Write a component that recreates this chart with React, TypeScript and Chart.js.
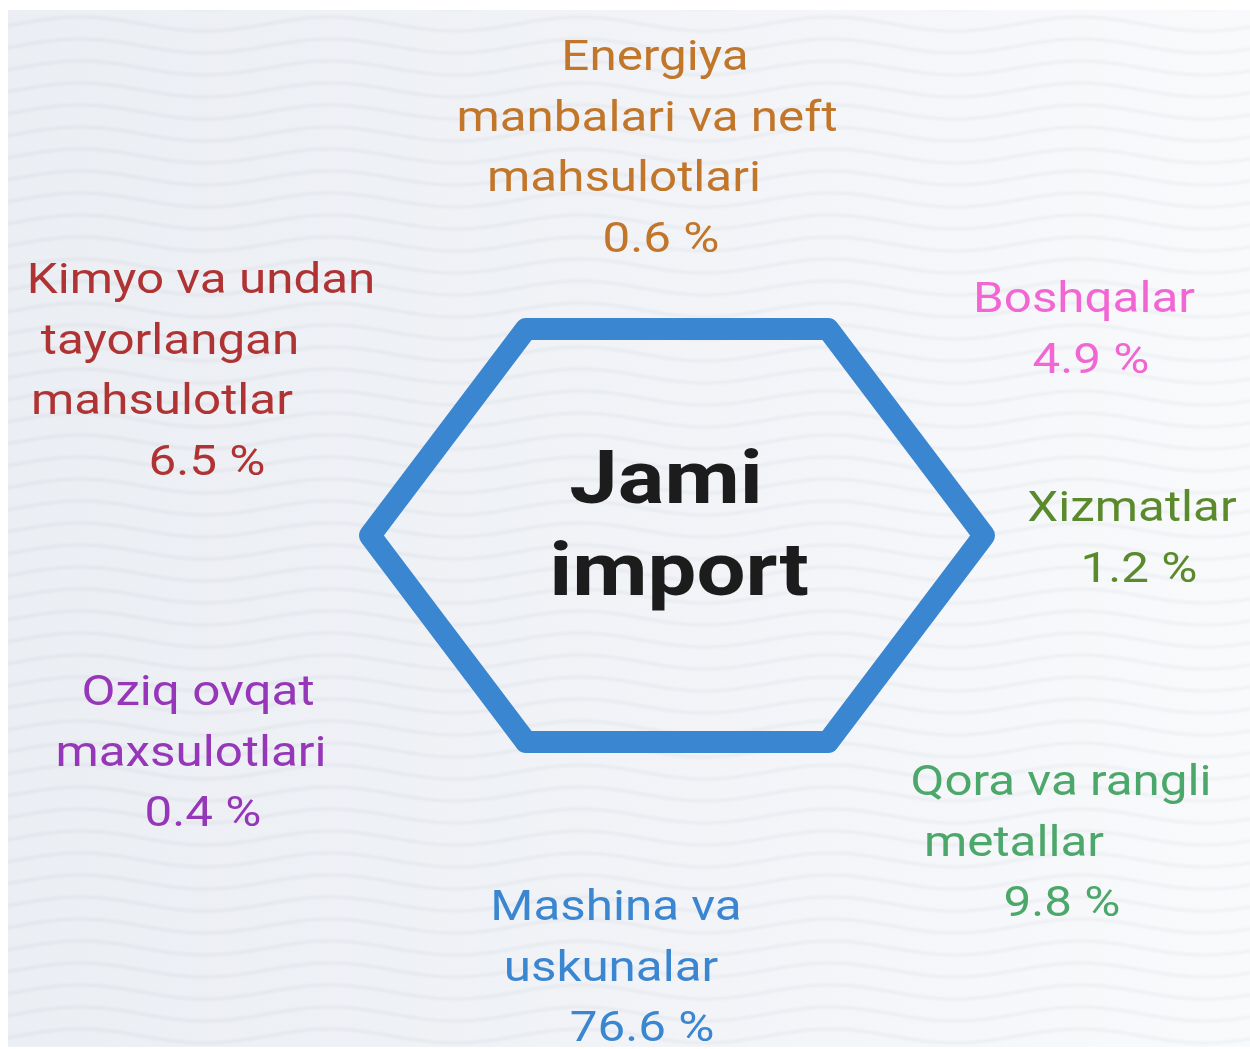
import React, { useEffect, useRef } from "react";
import { Chart, registerables } from "chart.js";

Chart.register(...registerables);

// ---------- data ----------
const CATEGORIES = [
  "Energiya manbalari va neft mahsulotlari",
  "Boshqalar",
  "Xizmatlar",
  "Qora va rangli metallar",
  "Mashina va uskunalar",
  "Oziq ovqat maxsulotlari",
  "Kimyo va undan tayorlangan mahsulotlar",
];
const SHARES = [0.6, 4.9, 1.2, 9.8, 76.6, 0.4, 6.5];
const LABEL_LINES = [
  ["Energiya", "manbalari va neft", "mahsulotlari"],
  ["Boshqalar"],
  ["Xizmatlar"],
  ["Qora va rangli", "metallar"],
  ["Mashina va", "uskunalar"],
  ["Oziq ovqat", "maxsulotlari"],
  ["Kimyo va undan", "tayorlangan", "mahsulotlar"],
];
const CENTER_TITLE = ["Jami", "import"];

// ---------- styles / layout ----------
const COLORS = ["#c1762a", "#f266d4", "#5b8a2d", "#4ca86a", "#3a86d0", "#9637b9", "#b03333"];
const ANCHOR_X = [655, 1084, 1132, 1061, 616, 198, 201];
const ANCHOR_Y = [70, 312, 521, 795, 920, 705, 293];
const LINE_DX = [
  [0, -8, -31, 6],
  [0, 7],
  [0, 7],
  [0, -47, 1],
  [0, -5, 26],
  [0, -7, 5],
  [0, -31, -39, 6],
];
const LINE_GAP = 60.5;
const SX = 1.175;
const W = 1250;
const H = 1049;
const HEX = { cx: 677, cy: 535.5, rx: 307, hw: 151, hy: 206.5 };

function hexVertices() {
  const { cx, cy, rx, hw, hy } = HEX;
  return [
    { x: cx, y: cy - hy },
    { x: cx + hw, y: cy - hy },
    { x: cx + rx, y: cy },
    { x: cx + hw, y: cy + hy },
    { x: cx - hw, y: cy + hy },
    { x: cx - rx, y: cy },
    { x: cx - hw, y: cy - hy },
    { x: cx, y: cy - hy },
  ];
}

const backgroundPlugin = {
  id: "bgWaves",
  beforeDraw(chart: any) {
    const ctx = chart.ctx as CanvasRenderingContext2D;
    ctx.save();
    ctx.fillStyle = "#ffffff";
    ctx.fillRect(0, 0, W, H);
    const px0 = 8, py0 = 10, px1 = 1250, py1 = 1047;
    const g = ctx.createLinearGradient(px0, 0, px1, 0);
    g.addColorStop(0, "#ebeef3");
    g.addColorStop(0.5, "#f1f3f7");
    g.addColorStop(1, "#f9fafc");
    ctx.fillStyle = g;
    ctx.fillRect(px0, py0, px1 - px0, py1 - py0);
    ctx.beginPath();
    ctx.rect(px0, py0, px1 - px0, py1 - py0);
    ctx.clip();
    ctx.filter = "blur(1px)";
    ctx.strokeStyle = "rgba(120,130,145,0.075)";
    ctx.lineWidth = 3;
    for (let y0 = -20; y0 < H + 30; y0 += 22) {
      ctx.beginPath();
      for (let x = px0 - 10; x <= px1 + 10; x += 4) {
        const y = y0 - 7 * Math.cos((2 * Math.PI * (x - 80)) / 250);
        if (x === px0 - 10) ctx.moveTo(x, y);
        else ctx.lineTo(x, y);
      }
      ctx.stroke();
    }
    ctx.restore();
  },
};

const labelPlugin = {
  id: "hexLabels",
  afterDatasetsDraw(chart: any) {
    const ctx = chart.ctx as CanvasRenderingContext2D;
    const meta = chart.getDatasetMeta(1);
    ctx.save();
    ctx.textAlign = "center";
    ctx.textBaseline = "alphabetic";
    ctx.filter = "blur(0.4px)";
    ctx.font = "42px Roboto";
    meta.data.forEach((pt: any, i: number) => {
      const lines = [...LABEL_LINES[i], `${SHARES[i]} %`];
      ctx.fillStyle = COLORS[i];
      lines.forEach((t, j) => {
        ctx.save();
        ctx.translate(pt.x + (LINE_DX[i][j] || 0), pt.y + j * LINE_GAP);
        ctx.scale(SX, 1);
        ctx.fillText(t, 0, 0);
        ctx.restore();
      });
    });
    // center title
    const xs = chart.scales.x;
    const ys = chart.scales.y;
    const cx = xs.getPixelForValue(HEX.cx);
    const cy = ys.getPixelForValue(HEX.cy);
    ctx.fillStyle = "#1c1c1c";
    ctx.font = "bold 74px Roboto";
    const offs = [[-11, -33], [2, 59]];
    CENTER_TITLE.forEach((t, j) => {
      ctx.save();
      ctx.translate(cx + offs[j][0], cy + offs[j][1]);
      ctx.scale(SX, 1);
      ctx.fillText(t, 0, 0);
      ctx.restore();
    });
    ctx.restore();
  },
};

export default function App() {
  const ref = useRef<HTMLCanvasElement | null>(null);
  useEffect(() => {
    if (!ref.current) return;
    const chart = new Chart(ref.current, {
      type: "scatter",
      data: {
        datasets: [
          {
            label: "hexagon",
            data: hexVertices(),
            showLine: true,
            borderColor: "#3a86d0",
            borderWidth: 22,
            borderJoinStyle: "round",
            borderCapStyle: "round",
            pointRadius: 0,
            fill: false,
            tension: 0,
          } as any,
          {
            label: "Jami import",
            data: CATEGORIES.map((c, i) => ({ x: ANCHOR_X[i], y: ANCHOR_Y[i], v: SHARES[i], name: c })),
            pointRadius: 0,
            showLine: false,
          } as any,
        ],
      },
      options: {
        animation: false,
        responsive: false,
        maintainAspectRatio: false,
        layout: { padding: 0 },
        plugins: { legend: { display: false }, tooltip: { enabled: false } },
        scales: {
          x: { type: "linear", display: false, min: 0, max: W },
          y: { type: "linear", display: false, min: 0, max: H, reverse: true },
        },
      },
      plugins: [backgroundPlugin, labelPlugin],
    });
    return () => chart.destroy();
  }, []);
  return (
    <div style={{ position: "fixed", left: 0, top: 0, width: W, height: H, background: "#fff" }}>
      <canvas ref={ref} width={W} height={H} style={{ display: "block", width: W, height: H }} />
    </div>
  );
}
